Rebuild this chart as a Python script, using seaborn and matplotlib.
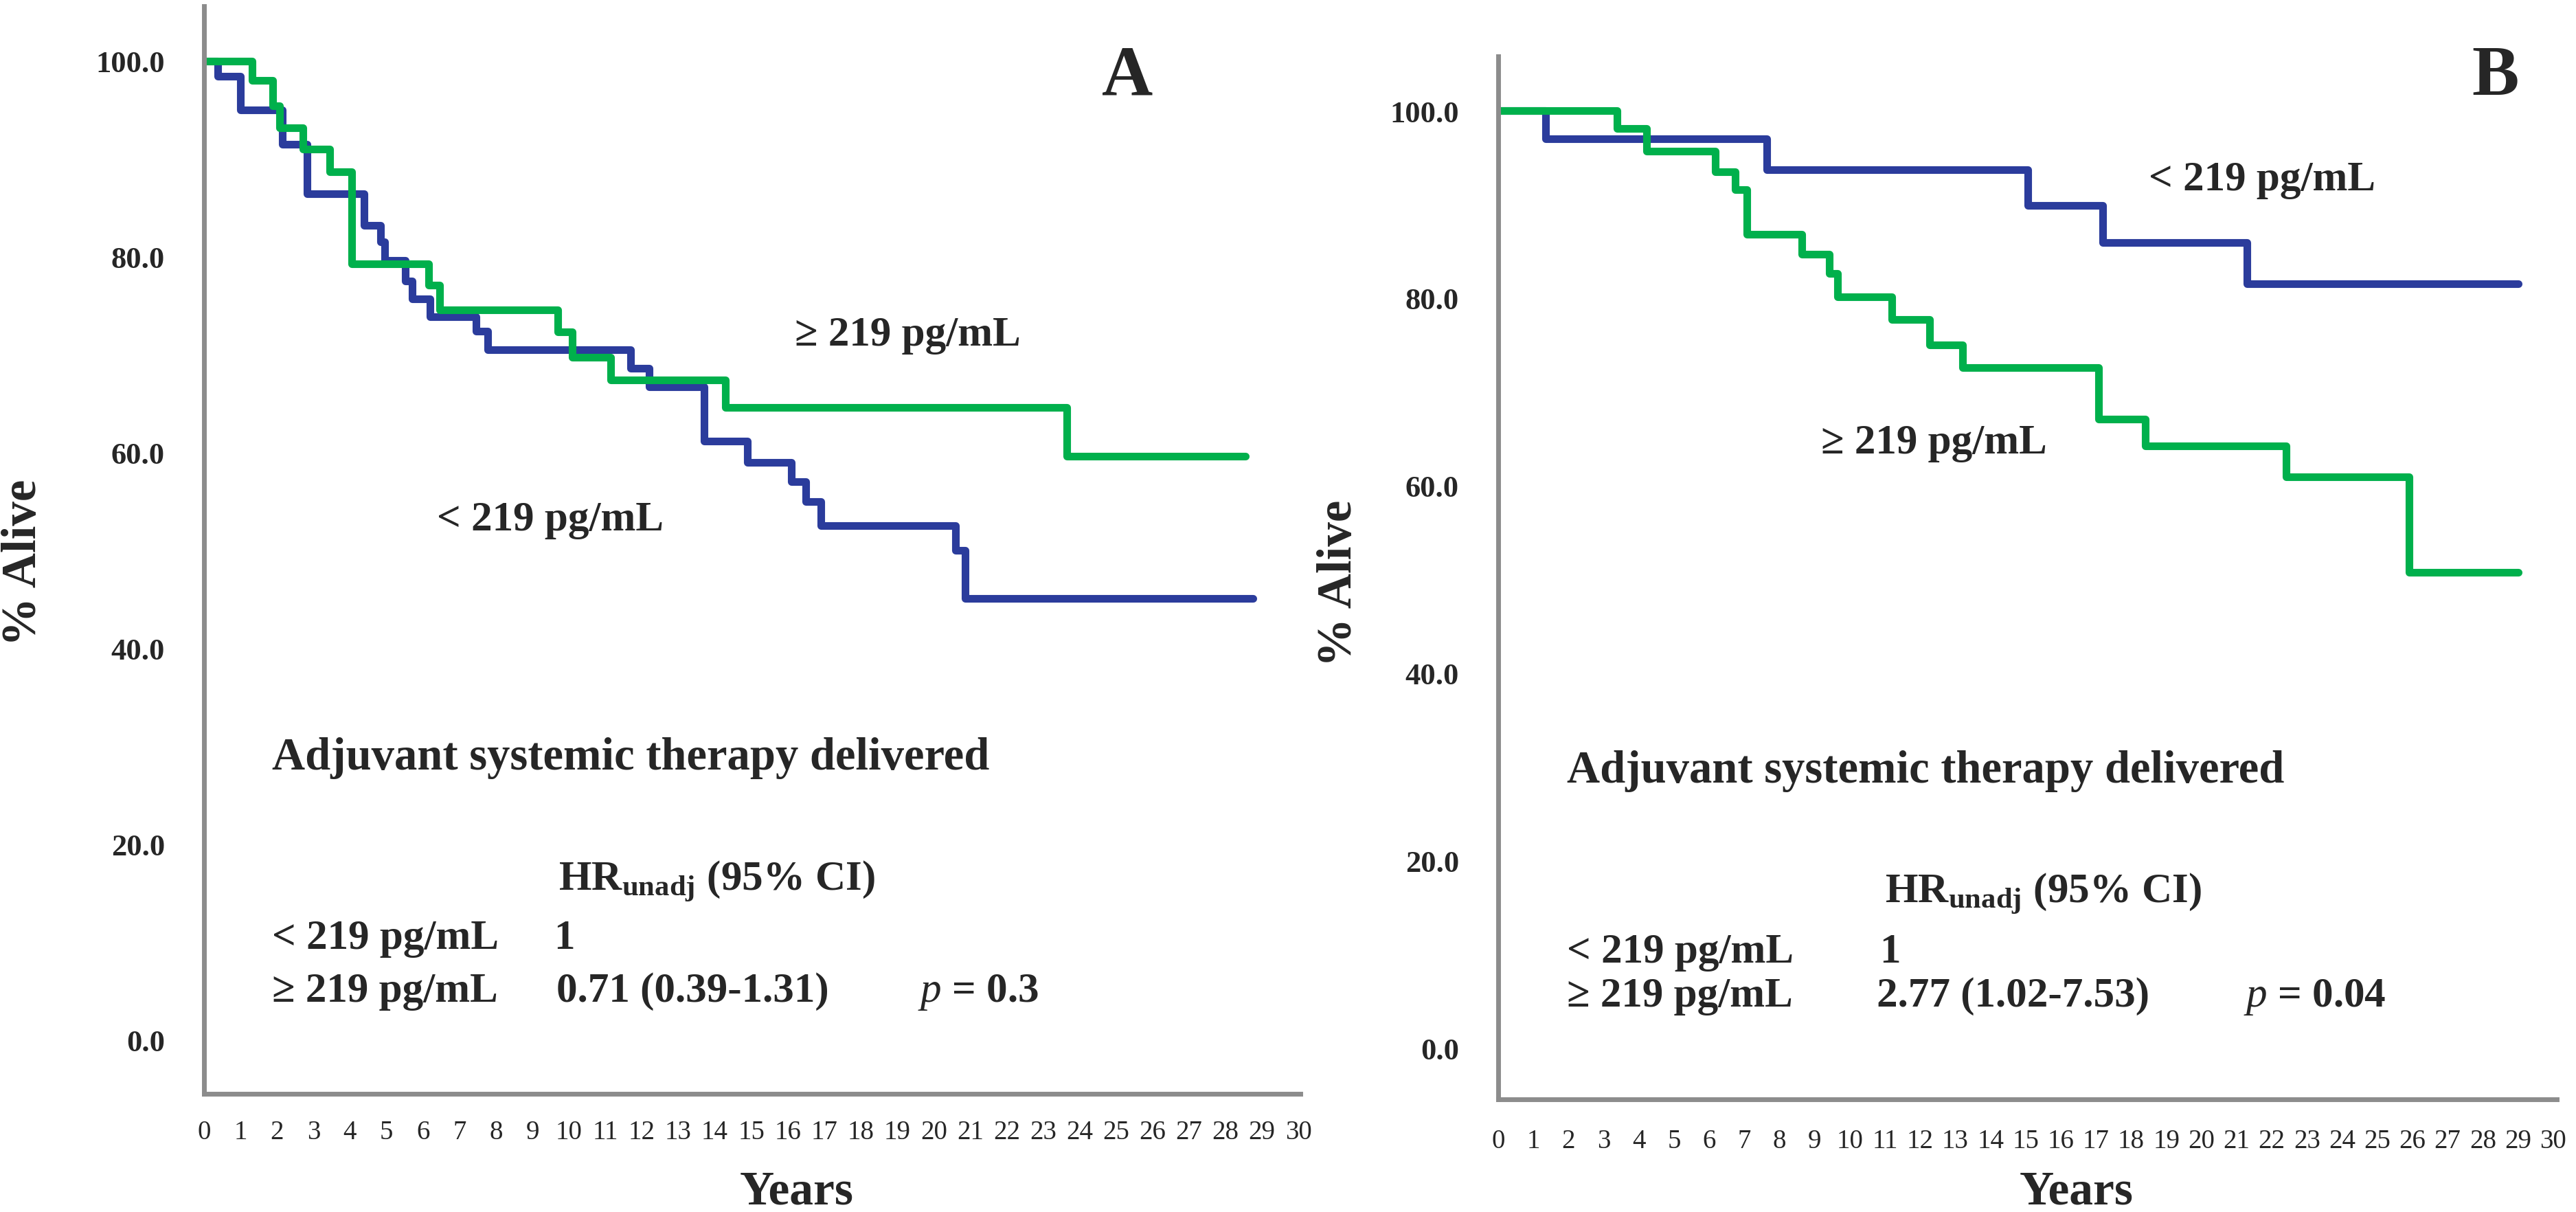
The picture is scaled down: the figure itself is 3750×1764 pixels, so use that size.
import matplotlib
matplotlib.use("Agg")
import matplotlib.pyplot as plt
import seaborn as sns
import pandas as pd

sns.set_style("white")
plt.rcParams['font.family'] = ['Liberation Serif', 'DejaVu Serif']
plt.rcParams['mathtext.fontset'] = 'custom'
plt.rcParams['mathtext.rm'] = 'Liberation Serif'
plt.rcParams['mathtext.it'] = 'Liberation Serif:italic'
plt.rcParams['mathtext.bf'] = 'Liberation Serif:bold'

# --- data ---
groups = ["< 219 pg/mL", "≥ 219 pg/mL"]
colors = {"< 219 pg/mL": "#2b3c9c", "≥ 219 pg/mL": "#00b04c"}

# Panel A
a_low_years = [0, 0.37, 1.0, 2.15, 2.82, 4.39, 4.83, 4.95, 5.52, 5.71, 6.2, 7.46, 7.78,
               11.7, 12.2, 13.7, 14.9, 16.1, 16.5, 16.9, 20.6, 20.87, 28.75]
a_low_surv = [100, 98.4, 95.0, 91.5, 86.4, 83.2, 81.5, 79.6, 77.5, 75.7, 73.9, 72.4, 70.5,
              68.6, 66.7, 61.2, 59.0, 57.0, 55.0, 52.5, 50.0, 45.1, 45.1]
a_high_years = [0, 1.31, 1.88, 2.07, 2.72, 3.45, 4.04, 6.15, 6.46, 9.7, 10.1, 11.15,
                14.3, 23.65, 28.55]
a_high_surv = [100, 98.0, 95.4, 93.2, 91.0, 88.7, 79.3, 77.1, 74.6, 72.3, 69.7, 67.4,
               64.6, 59.6, 59.6]

# Panel B
b_low_years = [0, 1.35, 7.63, 15.06, 17.2, 21.3, 29.0]
b_low_surv = [100, 97.0, 93.7, 89.9, 85.9, 81.5, 81.5]
b_high_years = [0, 3.37, 4.21, 6.17, 6.73, 7.07, 8.63, 9.42, 9.65, 11.2, 12.27, 13.2,
                17.07, 18.4, 22.4, 25.9, 29.0]
b_high_surv = [100, 98.1, 95.7, 93.5, 91.6, 86.8, 84.7, 82.6, 80.1, 77.7, 75.0, 72.6,
               67.1, 64.2, 60.9, 50.7, 50.7]

y_ticks = [0, 20, 40, 60, 80, 100]
y_tick_labels = ["0.0", "20.0", "40.0", "60.0", "80.0", "100.0"]
x_ticks = list(range(0, 31))

hr_a = ["1", "0.71 (0.39-1.31)", "$p$ = 0.3"]
hr_b = ["1", "2.77 (1.02-7.53)", "$p$ = 0.04"]

fig = plt.figure(figsize=(37.5, 17.65), dpi=100)
ax_a = fig.add_axes([0.0792, 0.0975, 0.4256, 0.8969])
ax_b = fig.add_axes([0.5816, 0.0929, 0.4109, 0.8601])


def make_df(low_x, low_y, high_x, high_y):
    return pd.concat([
        pd.DataFrame({"years": low_x, "surv": low_y, "group": groups[0]}),
        pd.DataFrame({"years": high_x, "surv": high_y, "group": groups[1]}),
    ], ignore_index=True)


def style_axes(ax, df, xlim, ylim, xtick_len):
    sns.lineplot(data=df, x="years", y="surv", hue="group", hue_order=groups,
                 palette=colors, estimator=None, sort=False, drawstyle="steps-post",
                 linewidth=8, legend=False, ax=ax)
    ax.set_xlim(*xlim)
    ax.set_ylim(*ylim)
    for side in ["top", "right"]:
        ax.spines[side].set_visible(False)
    for side in ["left", "bottom"]:
        ax.spines[side].set_color("#8c8c8c")
        ax.spines[side].set_linewidth(5)
    ax.set_yticks(y_ticks, y_tick_labels, fontsize=32, fontweight="bold")
    ax.set_xticks(x_ticks, [str(t) for t in x_ticks], fontsize=28)
    ax.tick_params(axis="y", length=13, width=4, color="#666666", pad=28)
    ax.tick_params(axis="x", length=xtick_len, width=2.5, color="#555555",
                   pad=26 - xtick_len * 0.7)
    ax.set_xlabel("")
    ax.set_ylabel("")


df_a = make_df(a_low_years, a_low_surv, a_high_years, a_high_surv)
df_b = make_df(b_low_years, b_low_surv, b_high_years, b_high_surv)
style_axes(ax_a, df_a, (0, 30.05), (-5.5, 105.6), 3)
style_axes(ax_b, df_b, (0, 30.1), (-5.5, 105.8), 14)

bold = dict(fontweight="bold", va="baseline", ha="left")

# Panel A annotations
ax_a.text(25.3, 98.3, "A", fontsize=74, fontweight="bold", ha="center", va="center")
ax_a.text(16.2, 71.0, groups[1], fontsize=44, **bold)
ax_a.text(12.6, 52.1, groups[0], fontsize=44, fontweight="bold", va="baseline", ha="right")
ax_a.text(1.86, 27.7, "Adjuvant systemic therapy delivered", fontsize=48, **bold)
ax_a.text(9.72, 15.4, r"HR$_{\mathbf{unadj}}$ (95% CI)", fontsize=44, **bold)
ax_a.text(1.86, 9.35, groups[0], fontsize=44, **bold)
ax_a.text(9.59, 9.35, hr_a[0], fontsize=44, **bold)
ax_a.text(1.86, 4.0, groups[1], fontsize=44, **bold)
ax_a.text(9.65, 4.0, hr_a[1], fontsize=44, **bold)
ax_a.text(19.56, 4.0, hr_a[2], fontsize=44, **bold)

# Panel B annotations
ax_b.text(28.36, 103.6, "B", fontsize=74, fontweight="bold", ha="center", va="center")
ax_b.text(18.5, 91.6, groups[0], fontsize=44, **bold)
ax_b.text(9.18, 63.5, groups[1], fontsize=44, **bold)
ax_b.text(1.95, 28.4, "Adjuvant systemic therapy delivered", fontsize=48, **bold)
ax_b.text(11.0, 15.6, r"HR$_{\mathbf{unadj}}$ (95% CI)", fontsize=44, **bold)
ax_b.text(1.95, 9.2, groups[0], fontsize=44, **bold)
ax_b.text(10.84, 9.2, hr_b[0], fontsize=44, **bold)
ax_b.text(1.95, 4.5, groups[1], fontsize=44, **bold)
ax_b.text(10.76, 4.5, hr_b[1], fontsize=44, **bold)
ax_b.text(21.2, 4.5, hr_b[2], fontsize=44, **bold)

# axis titles
W, H = 3750, 1765
fig.text(35 / W, 1 - 819 / H, "% Alive", rotation=90, fontsize=51, fontweight="bold",
         ha="center", va="center")
fig.text(1949 / W, 1 - 849 / H, "% Alive", rotation=90, fontsize=51, fontweight="bold",
         ha="center", va="center")
fig.text(1160 / W, 1 - 1736 / H, "Years", fontsize=50, fontweight="bold",
         ha="center", va="center")
fig.text(3023 / W, 1 - 1736 / H, "Years", fontsize=50, fontweight="bold",
         ha="center", va="center")

fig.savefig("out.png", dpi=100, facecolor="white")
